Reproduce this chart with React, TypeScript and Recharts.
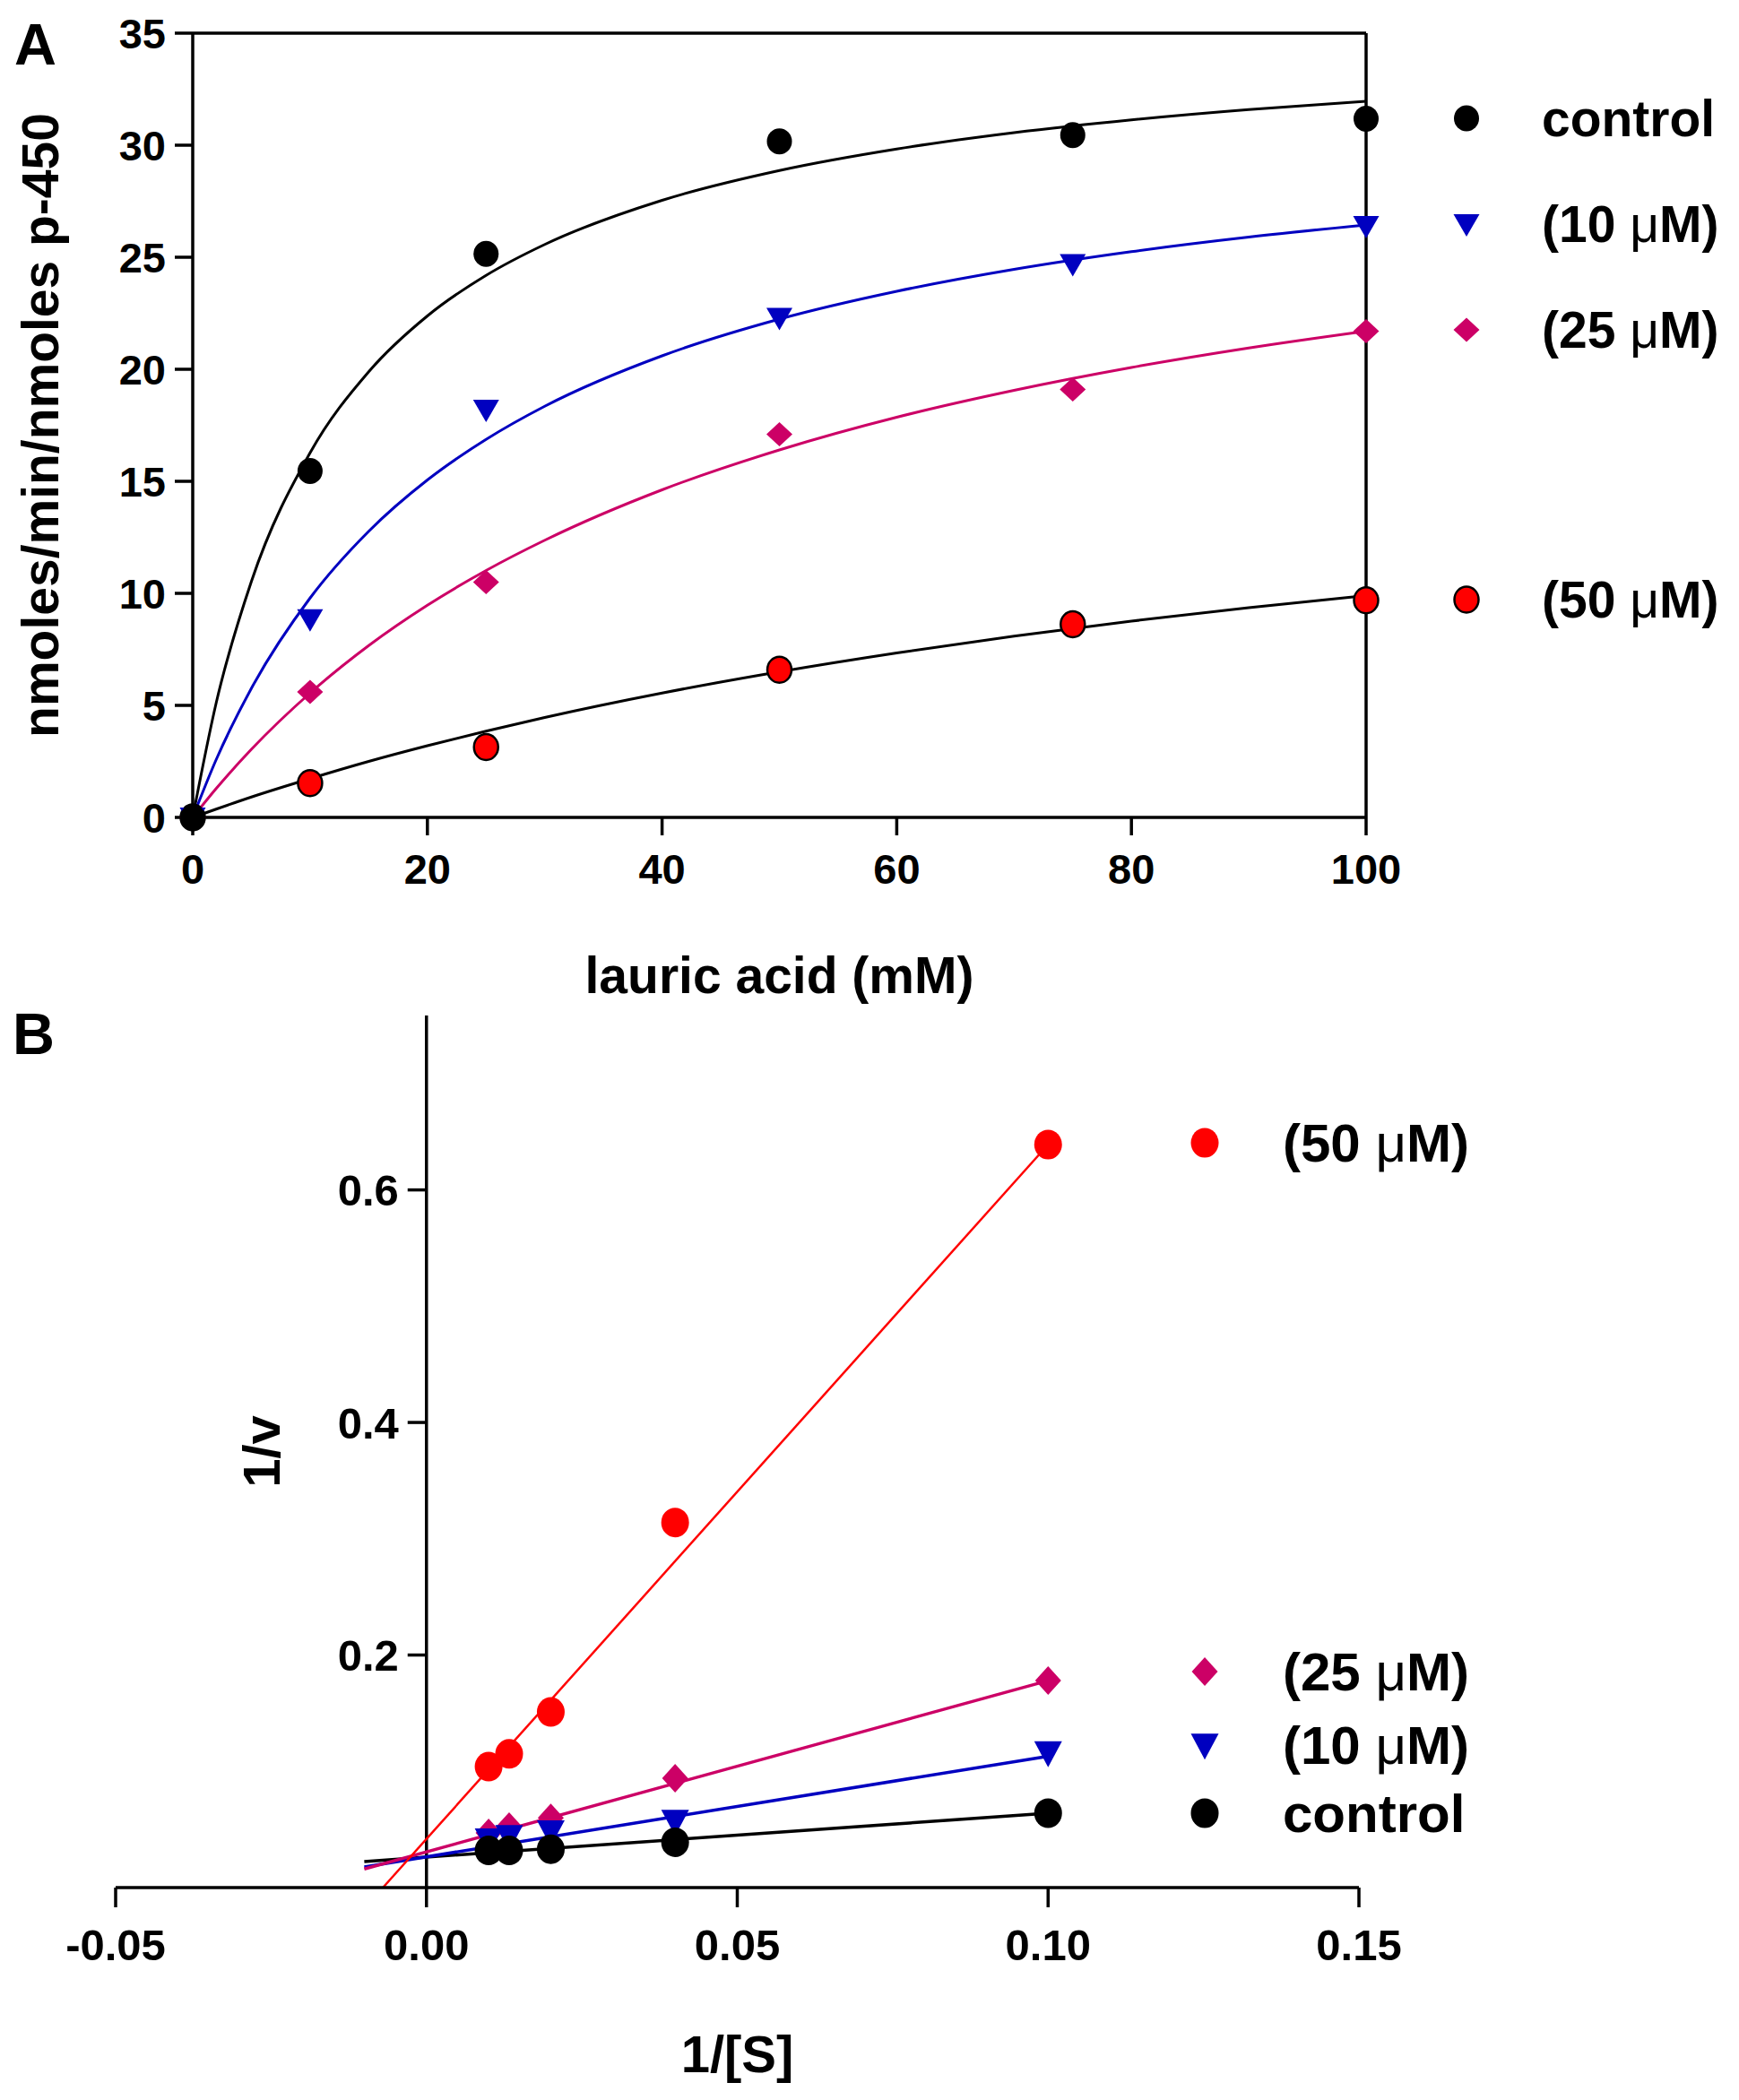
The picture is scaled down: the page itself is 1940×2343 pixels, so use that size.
import React from 'react';
import {
  ComposedChart,
  Line,
  Scatter,
  XAxis,
  YAxis,
  ReferenceLine,
  ReferenceDot,
  Legend,
  Label,
} from 'recharts';

const FONT = '"Liberation Sans", Arial, Helvetica, sans-serif';

// ---------------- Panel A data (v vs [S]) ----------------
const substrate = [0, 10, 25, 50, 75, 100];
const controlRate = [0, 15.46, 25.15, 30.17, 30.45, 31.18];
const inh10Rate = [0, 8.85, 18.2, 22.3, 24.7, 26.4];
const inh25Rate = [0, 5.6, 10.5, 17.1, 19.1, 21.7];
const inh50Rate = [0, 1.53, 3.14, 6.59, 8.62, 9.69];

// fitted curves
const fitX = [0, 2, 5, 10, 15, 20, 25, 30, 40, 50, 60, 70, 80, 90, 100];
const controlFit = [0, 5.11, 10.53, 16.27, 19.89, 22.38, 24.19, 25.57, 27.54, 28.87, 29.83, 30.56, 31.13, 31.59, 31.96];
const inh10Fit = [0, 2.58, 5.76, 9.79, 12.77, 15.06, 16.87, 18.35, 20.6, 22.24, 23.48, 24.46, 25.25, 25.9, 26.44];
const inh25Fit = [0, 1.29, 3.04, 5.55, 7.67, 9.47, 11.02, 12.37, 14.62, 16.4, 17.86, 19.06, 20.08, 20.95, 21.7];
const inh50Fit = [0, 0.37, 0.91, 1.73, 2.5, 3.2, 3.85, 4.46, 5.55, 6.5, 7.34, 8.09, 8.76, 9.36, 9.9];

const xTicksA = [0, 20, 40, 60, 80, 100];
const yTicksA = [0, 5, 10, 15, 20, 25, 30, 35];

// ---------------- Panel B data (1/v vs 1/[S]) ----------------
const invS = [0.01, 0.0133, 0.02, 0.04, 0.1];
const controlInv = [0.032, 0.032, 0.033, 0.039, 0.064];
const inh10Inv = [0.041, 0.044, 0.048, 0.057, 0.116];
const inh25Inv = [0.047, 0.0525, 0.06, 0.094, 0.178];
const inh50Inv = [0.104, 0.115, 0.151, 0.314, 0.639];

const lineXB = [-0.01, 0.1];
const controlLineB = [0.0224, 0.064];
const inh10LineB = [0.0178, 0.113];
const inh25LineB = [0.016, 0.178];
const inh50LineX = [-0.007, 0.1];
const inh50LineB = [0, 0.639];

const xTicksB = [-0.05, 0, 0.05, 0.1, 0.15];
const yTicksB = [0.2, 0.4, 0.6];

const seriesNames = ['control', '(10 μM)', '(25 μM)', '(50 μM)'];

// ---------------- helpers ----------------
const zip = (xs: number[], ys: number[]) => xs.map((x, i) => ({ x, y: ys[i] }));

const BLUE = '#0000c0';
const PINK = '#cc0066';
const RED = '#ff0000';

type MarkerStyle = { kind: string; fill: string; stroke?: string; sw?: number; w: number; h: number };

const drawMarker = (m: MarkerStyle, cx: number, cy: number, key?: string | number) => {
  if (cx == null || cy == null) return <g key={key} />;
  if (m.kind === 'circle') {
    return (
      <ellipse key={key} cx={cx} cy={cy} rx={m.w / 2} ry={m.h / 2} fill={m.fill}
        stroke={m.stroke || 'none'} strokeWidth={m.sw || 0} />
    );
  }
  if (m.kind === 'triangle') {
    const pts = `${cx - m.w / 2},${cy - m.h * 0.44} ${cx + m.w / 2},${cy - m.h * 0.44} ${cx},${cy + m.h * 0.56}`;
    return <polygon key={key} points={pts} fill={m.fill} />;
  }
  const pts = `${cx},${cy - m.h / 2} ${cx + m.w / 2},${cy} ${cx},${cy + m.h / 2} ${cx - m.w / 2},${cy}`;
  return <polygon key={key} points={pts} fill={m.fill} />;
};

const markersA: MarkerStyle[] = [
  { kind: 'circle', fill: '#000', w: 28, h: 29 },
  { kind: 'triangle', fill: BLUE, w: 29, h: 25 },
  { kind: 'diamond', fill: PINK, w: 29, h: 27 },
  { kind: 'circle', fill: RED, stroke: '#000', sw: 2.5, w: 27, h: 29 },
];
const markersB: MarkerStyle[] = [
  { kind: 'circle', fill: '#000', w: 31, h: 33 },
  { kind: 'triangle', fill: BLUE, w: 31, h: 29 },
  { kind: 'diamond', fill: PINK, w: 29, h: 32 },
  { kind: 'circle', fill: RED, w: 31, h: 33 },
];

const shapeFor = (m: MarkerStyle) => (p: any) => drawMarker(m, p.cx, p.cy);

const renderName = (name: string) => {
  const parts = name.split('μ');
  if (parts.length < 2) return name;
  return (
    <>
      {parts[0]}
      <tspan fontWeight={400}>μ</tspan>
      {parts[1]}
    </>
  );
};

// legend layout (pixel positions inside each chart box)
const legendA = { markerX: 1636, textX: 1720, fontSize: 57, rows: [132, 250, 368, 669] };
const legendB = { markerX: 1344, textX: 1431, fontSize: 60, rows: [893, 817, 735, 145] };

const makeLegend = (
  cfg: { markerX: number; textX: number; fontSize: number; rows: number[] },
  markers: MarkerStyle[],
  w: number,
  h: number,
) => () => (
  <svg width={w} height={h} style={{ display: 'block', overflow: 'visible' }}>
    {seriesNames.map((name, i) => (
      <g key={name}>
        {drawMarker(markers[i], cfg.markerX, cfg.rows[i])}
        <text x={cfg.textX} y={cfg.rows[i] + cfg.fontSize * 0.35} fontFamily={FONT}
          fontWeight={700} fontSize={cfg.fontSize} fill="#000">
          {renderName(name)}
        </text>
      </g>
    ))}
  </svg>
);

const axisStroke = { stroke: '#000', strokeWidth: 3.5 };
const tickStyleA = { fontFamily: FONT, fontWeight: 700, fontSize: 47, fill: '#000' };
const tickStyleB = { fontFamily: FONT, fontWeight: 700, fontSize: 49, fill: '#000' };
const titleFont = { fontFamily: FONT, fontWeight: 700, fontSize: 57, fill: '#000' };

const W = 1940;
const HA = 1130;
const HB = 1213;

function PanelA() {
  const pts = [controlRate, inh10Rate, inh25Rate, inh50Rate].map((ys) => zip(substrate, ys));
  const fits = [controlFit, inh10Fit, inh25Fit, inh50Fit].map((ys) => zip(fitX, ys));
  const lineColors = ['#000', BLUE, PINK, '#000'];
  return (
    <ComposedChart width={W} height={HA} margin={{ top: 37, right: 416, bottom: 0, left: 0 }}>
      <XAxis type="number" dataKey="x" domain={[0, 100]} ticks={xTicksA} interval={0}
        tickSize={20} tickMargin={21} height={218} axisLine={axisStroke} tickLine={axisStroke}
        tick={tickStyleA}>
        <Label content={(p: any) => {
          const vb = p.viewBox;
          return (
            <text x={vb.x + vb.width / 2} y={vb.y + 196} textAnchor="middle" {...titleFont}>
              lauric acid (mM)
            </text>
          );
        }} />
      </XAxis>
      <YAxis type="number" dataKey="y" domain={[0, 35]} ticks={yTicksA} interval={0}
        width={215} tickSize={20} tickMargin={10} axisLine={axisStroke} tickLine={axisStroke}
        tick={tickStyleA}>
        <Label content={(p: any) => {
          const vb = p.viewBox;
          const cx = vb.x + 65;
          const cy = vb.y + vb.height / 2;
          return (
            <text x={cx} y={cy} textAnchor="middle" transform={`rotate(-90 ${cx} ${cy})`} {...titleFont}>
              nmoles/min/nmoles p-450
            </text>
          );
        }} />
      </YAxis>
      <ReferenceLine y={35} stroke="#000" strokeWidth={3.5} ifOverflow="visible" />
      <ReferenceLine x={100} stroke="#000" strokeWidth={3.5} ifOverflow="visible" />
      {fits.map((d, i) => (
        <Line key={'fa' + i} data={d} dataKey="y" type="monotone" stroke={lineColors[i]}
          strokeWidth={3} dot={false} activeDot={false} isAnimationActive={false} legendType="none" />
      ))}
      {[3, 2, 1, 0].map((i) => (
        <Scatter key={'sa' + i} name={seriesNames[i]} data={pts[i]} dataKey="y"
          shape={shapeFor(markersA[i])} isAnimationActive={false} />
      ))}
      <Legend layout="vertical" align="center" verticalAlign="middle"
        wrapperStyle={{ left: 0, top: 0, width: W, height: HA, pointerEvents: 'none' }}
        content={makeLegend(legendA, markersA, W, HA)} />
    </ComposedChart>
  );
}

function PanelB() {
  const pts = [controlInv, inh10Inv, inh25Inv, inh50Inv].map((ys) => zip(invS, ys));
  const lines = [
    zip(lineXB, controlLineB),
    zip(lineXB, inh10LineB),
    zip(lineXB, inh25LineB),
    zip(inh50LineX, inh50LineB),
  ];
  const lineColors = ['#000', BLUE, PINK, RED];
  const lineW = [3.5, 3.5, 3.5, 2.5];
  return (
    <ComposedChart width={W} height={HB} margin={{ top: 3, right: 424, bottom: 0, left: 0 }}>
      <XAxis type="number" dataKey="x" domain={[-0.05, 0.15]} ticks={xTicksB} interval={0}
        tickFormatter={(v: number) => v.toFixed(2)}
        tickSize={22} tickMargin={24} height={237} axisLine={axisStroke} tickLine={axisStroke}
        tick={tickStyleB}>
        <Label content={(p: any) => {
          const vb = p.viewBox;
          return (
            <text x={vb.x + vb.width / 2} y={vb.y + 206} textAnchor="middle" {...titleFont} fontSize={58}>
              1/[S]
            </text>
          );
        }} />
      </XAxis>
      <YAxis type="number" dataKey="y" domain={[0, 0.75]} width={129} axisLine={false}
        tickLine={false} tick={false}>
        <Label content={(p: any) => {
          const vb = p.viewBox;
          const cx = 312;
          const cy = vb.y + vb.height / 2;
          return (
            <text x={cx} y={cy} textAnchor="middle" transform={`rotate(-90 ${cx} ${cy})`} {...titleFont} fontSize={58}>
              1/v
            </text>
          );
        }} />
      </YAxis>
      <ReferenceLine x={0} stroke="#000" strokeWidth={3.5} ifOverflow="visible" />
      {yTicksB.map((t) => (
        <ReferenceDot key={'yt' + t} x={0} y={t} ifOverflow="visible"
          shape={(p: any) => (
            <g>
              <line x1={p.cx - 21} y1={p.cy} x2={p.cx} y2={p.cy} stroke="#000" strokeWidth={3.5} />
              <text x={p.cx - 31} y={p.cy + 49 * 0.36} textAnchor="end" {...tickStyleB}>
                {t.toFixed(1)}
              </text>
            </g>
          )} />
      ))}
      {lines.map((d, i) => (
        <Line key={'lb' + i} data={d} dataKey="y" type="linear" stroke={lineColors[i]}
          strokeWidth={lineW[i]} dot={false} activeDot={false} isAnimationActive={false} legendType="none" />
      ))}
      {[3, 2, 1, 0].map((i) => (
        <Scatter key={'sb' + i} name={seriesNames[i]} data={pts[i]} dataKey="y"
          shape={shapeFor(markersB[i])} isAnimationActive={false} />
      ))}
      <Legend layout="vertical" align="center" verticalAlign="middle"
        wrapperStyle={{ left: 0, top: 0, width: W, height: HB, pointerEvents: 'none' }}
        content={makeLegend(legendB, markersB, W, HB)} />
    </ComposedChart>
  );
}

export default function App() {
  return (
    <div style={{ position: 'absolute', left: 0, top: 0, width: W, height: 2343, background: '#fff', overflow: 'hidden' }}>
      <div style={{ position: 'absolute', left: 0, top: 0 }}>
        <PanelA />
      </div>
      <div style={{ position: 'absolute', left: 0, top: HA }}>
        <PanelB />
      </div>
      <svg width={W} height={2343} style={{ position: 'absolute', left: 0, top: 0, pointerEvents: 'none' }}>
        <text x={16} y={72} fontFamily={FONT} fontWeight={700} fontSize={65} fill="#000">A</text>
        <text x={14} y={1176} fontFamily={FONT} fontWeight={700} fontSize={65} fill="#000">B</text>
      </svg>
    </div>
  );
}
